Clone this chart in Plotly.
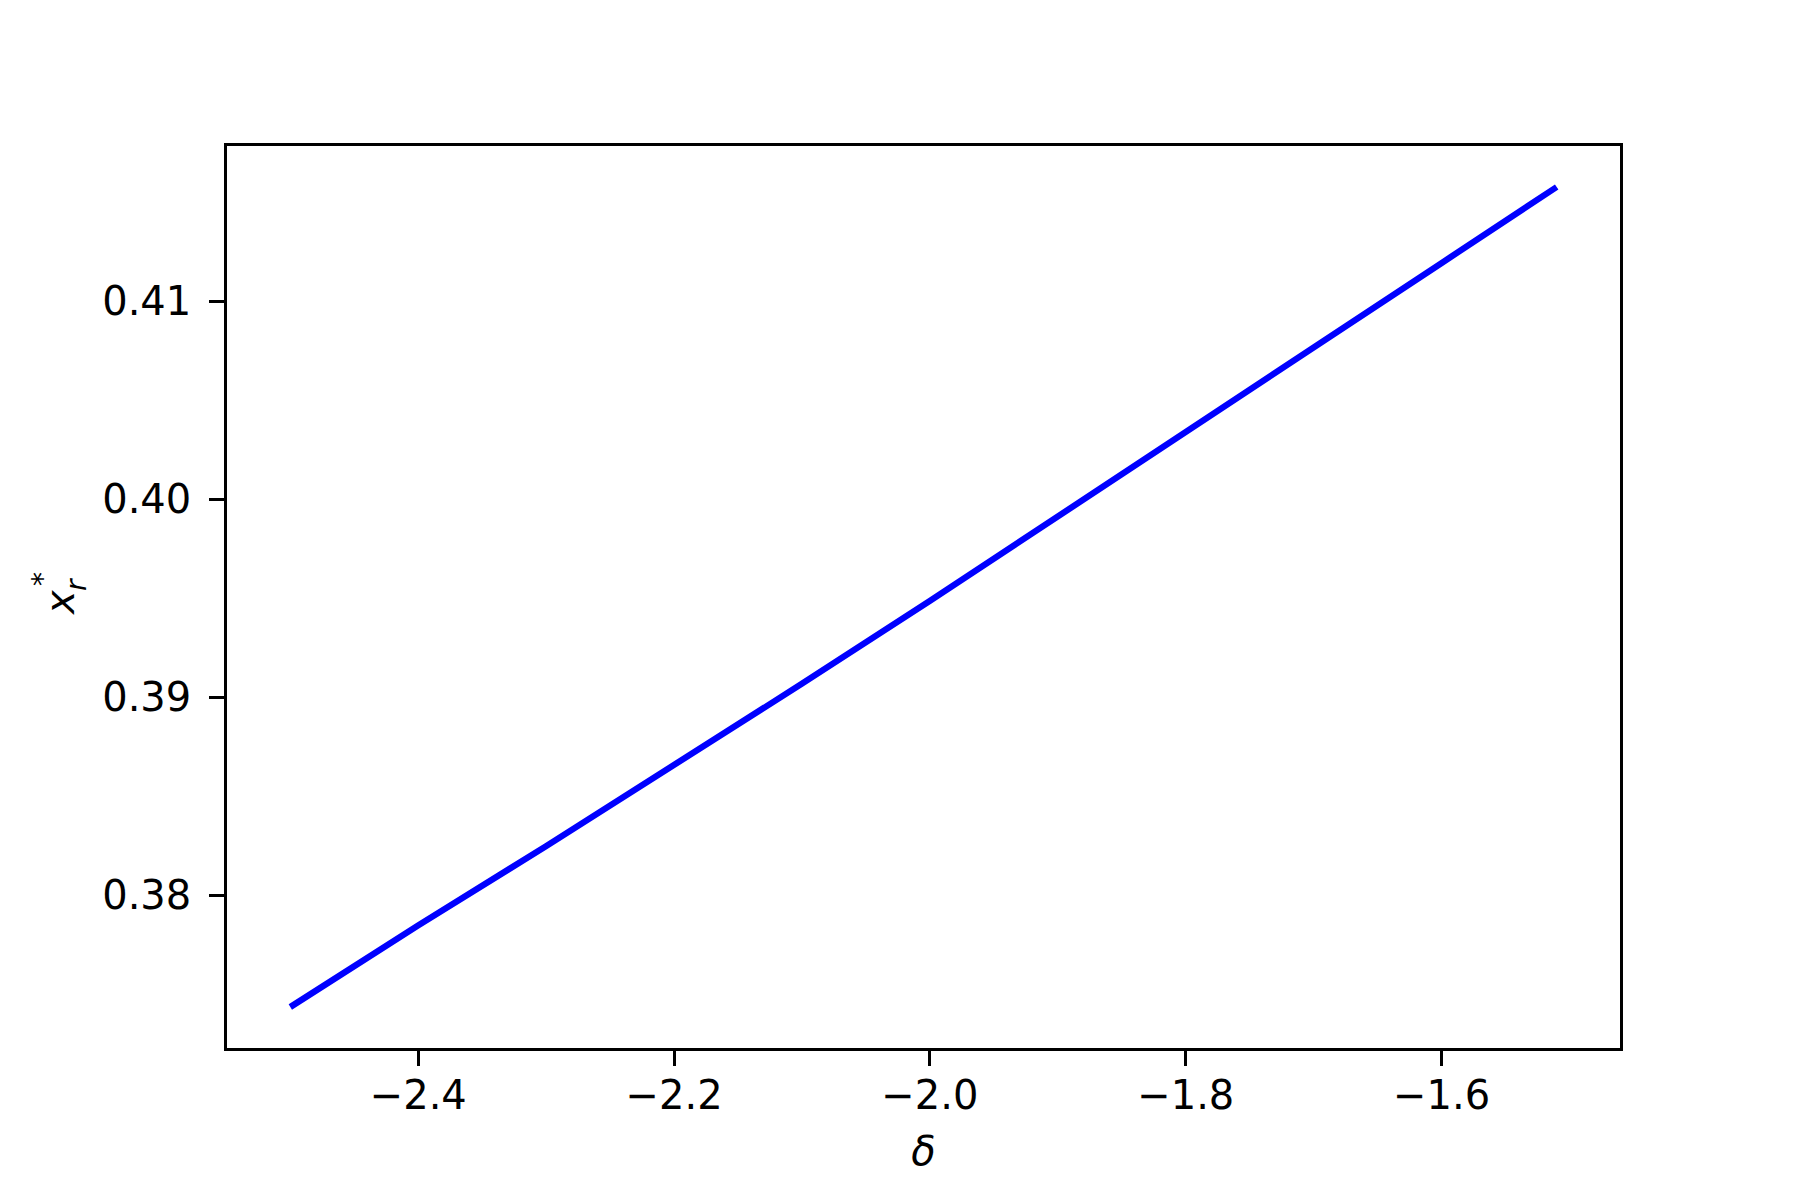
import plotly.graph_objects as go

# values
delta = [-2.5, -2.4, -2.3, -2.2, -2.1, -2.0, -1.9, -1.8, -1.7, -1.6, -1.51]
x_r = [0.37435, 0.37847, 0.38248, 0.38654, 0.39068, 0.39486,
       0.39914, 0.40346, 0.40770, 0.41193, 0.41577]

x_ticks = [-2.4, -2.2, -2.0, -1.8, -1.6]
x_tick_labels = ["\u22122.4", "\u22122.2", "\u22122.0", "\u22121.8", "\u22121.6"]
y_ticks = [0.38, 0.39, 0.40, 0.41]
y_tick_labels = ["0.38", "0.39", "0.40", "0.41"]

W, H = 1800, 1200
OFF = 8  # page body margin shifts the figure
L, R, T, B = 219, 188, 138, 160
FONT = dict(family="DejaVu Sans", size=40, color="black")

fig = go.Figure()
fig.add_trace(go.Scatter(x=delta, y=x_r, mode="lines",
                         line=dict(color="#0000ff", width=6.25),
                         showlegend=False))

# matplotlib style 5% padding around the data
xspan = max(delta) - min(delta)
yspan = max(x_r) - min(x_r)

axis_common = dict(showline=True, linecolor="black", linewidth=3.3, mirror=True,
                   ticks="outside", ticklen=14.6, tickwidth=3.3, tickcolor="black",
                   showgrid=False, zeroline=False, tickfont=FONT)

fig.update_xaxes(range=[min(delta) - 0.05 * xspan, max(delta) + 0.05 * xspan],
                 tickvals=x_ticks, ticktext=x_tick_labels,
                 ticklabelstandoff=-5,
                 title=dict(text="<i>\u03b4</i>", font=FONT, standoff=21),
                 **axis_common)
fig.update_yaxes(range=[min(x_r) - 0.05 * yspan, max(x_r) + 0.05 * yspan],
                 tickvals=y_ticks, ticktext=y_tick_labels,
                 ticklabelstandoff=10,
                 **axis_common)

# y label: x with stacked superscript * and subscript r, rotated
def px_x(p):
    return (p - OFF - L) / (W - L - R)

def px_y(p):
    return (H - OFF - B - p) / (H - T - B)

def label(text, px, py, size):
    fig.add_annotation(text=text, x=px_x(px), y=px_y(py), xref="paper", yref="paper",
                       xanchor="center", yanchor="middle", showarrow=False, textangle=-90,
                       font=dict(family="DejaVu Sans", size=size, color="black"))

label("<i>x</i>", 60, 587, 40)
label("<i>r</i>", 76, 569, 28)
label("*", 42, 563, 28)

fig.update_layout(width=W, height=H, margin=dict(l=L, r=R, t=T, b=B),
                  plot_bgcolor="white", paper_bgcolor="white")

fig.write_html("out.html")
